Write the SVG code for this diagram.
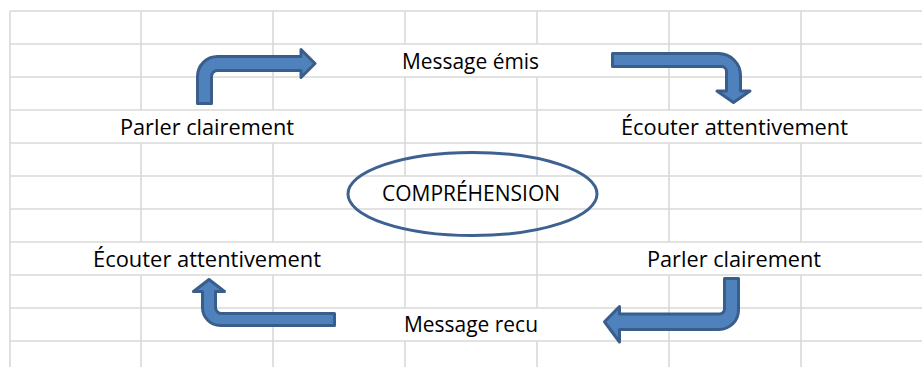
<svg xmlns="http://www.w3.org/2000/svg" width="922" height="367" viewBox="0 0 922 367">
  <style>
    .grid { stroke: #d9d9d9; stroke-width: 1.6; fill: none; }
    .lbl { font-family: "Open Sans", "Liberation Sans", sans-serif; font-size: 21px; fill: #000000; }
    .arrow { fill: #4f81bd; stroke: #3a5e8c; stroke-width: 3; stroke-linejoin: round; }
    .oval { fill: none; stroke: #3d6190; stroke-width: 3; }
  </style>
  <rect x="0" y="0" width="922" height="367" fill="#ffffff"/>
  <g id="grid">
    <path class="grid" d="M10,11H922 M10,44H922 M10,77H922 M10,110H922 M10,143H922 M10,176H922 M10,209H922 M10,242H922 M10,275H922 M10,308H922 M10,341H922"/>
    <path class="grid" d="M10,11V367
      M141,11V110 M141,143V242 M141,275V367
      M273,11V110 M273,143V242 M273,275V367
      M405,11V44 M405,77V176 M405,209V308 M405,341V367
      M537,11V44 M537,77V176 M537,209V308 M537,341V367
      M669,11V110 M669,143V242 M669,275V367
      M801,11V110 M801,143V242 M801,275V367"/>
  </g>
  <g id="connectors">
    <path id="arrow-top-left" class="arrow" d="M197.5,103.5 L197.5,76.5 A20,20 0 0 1 217.5,56.5 L301,56.5 L301,49.5 L315,63.5 L301,77.5 L301,70.5 L217.5,70.5 A6,6 0 0 0 211.5,76.5 L211.5,103.5 Z"/>
    <path id="arrow-top-right" class="arrow" d="M612.5,53.5 L718.5,53.5 A22,22 0 0 1 740.5,75.5 L740.5,91 L750,91 L733.5,102.5 L717,91 L726.5,91 L726.5,71.5 A5,5 0 0 0 721.5,66.5 L612.5,66.5 Z"/>
    <path id="arrow-bottom-right" class="arrow" d="M738.5,278.5 L738.5,310 A19.5,19.5 0 0 1 719,329.5 L619.5,329.5 L619.5,342 L604.5,321.75 L619.5,306.5 L619.5,314 L719.5,314 A5,5 0 0 0 724.5,309 L724.5,278.5 Z"/>
    <path id="arrow-bottom-left" class="arrow" d="M334.5,313.5 L221.5,313.5 A6,6 0 0 1 215.5,307.5 L215.5,291.5 L224.5,291.5 L209,279.5 L193.5,291.5 L202.5,291.5 L202.5,307.5 A18,18 0 0 0 220.5,325.5 L334.5,325.5 Z"/>
  </g>
  <g id="node-message-emis">
    <text class="lbl" x="402" y="68.5" textLength="137" lengthAdjust="spacingAndGlyphs">Message émis</text>
  </g>
  <g id="node-parler-1">
    <text class="lbl" x="120" y="134.5" textLength="174" lengthAdjust="spacingAndGlyphs">Parler clairement</text>
  </g>
  <g id="node-ecouter-1">
    <text class="lbl" x="621" y="134.5" textLength="227" lengthAdjust="spacingAndGlyphs">Écouter attentivement</text>
  </g>
  <g id="node-comprehension">
    <ellipse class="oval" cx="472.5" cy="194" rx="124.5" ry="41.5"/>
    <text class="lbl" x="382" y="200.5" textLength="178" lengthAdjust="spacingAndGlyphs">COMPRÉHENSION</text>
  </g>
  <g id="node-ecouter-2">
    <text class="lbl" x="93" y="266.8" textLength="228" lengthAdjust="spacingAndGlyphs">Écouter attentivement</text>
  </g>
  <g id="node-parler-2">
    <text class="lbl" x="647" y="266.8" textLength="174" lengthAdjust="spacingAndGlyphs">Parler clairement</text>
  </g>
  <g id="node-message-recu">
    <text class="lbl" x="404" y="332.3" textLength="134" lengthAdjust="spacingAndGlyphs">Message recu</text>
  </g>
</svg>
